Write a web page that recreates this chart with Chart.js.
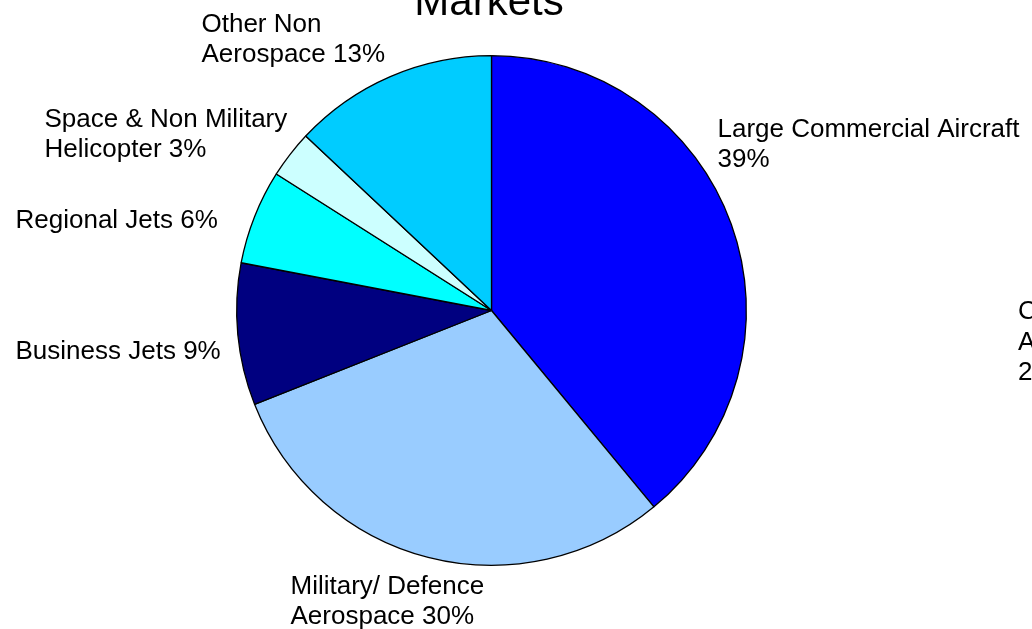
<!DOCTYPE html>
<html>
<head>
<meta charset="utf-8">
<script src="https://cdn.jsdelivr.net/npm/chart.js@4/dist/chart.umd.min.js"></script>
<style>
  html, body { margin: 0; padding: 0; background: #fff; overflow: hidden; }
  canvas { display: block; }
</style>
</head>
<body>
<canvas id="pie" width="1032" height="629"></canvas>
<script>
// Market split of sales, clockwise from twelve o'clock
const categories = [
  "Large Commercial Aircraft\n",
  "Military/ Defence\nAerospace",
  "Business Jets",
  "Regional Jets",
  "Space & Non Military\nHelicopter",
  "Other Non\nAerospace"
];
const shares = [39, 30, 9, 6, 3, 13];
const sliceColors = ["#0000FF", "#99CCFF", "#000080", "#00FFFF", "#CCFFFF", "#00CCFF"];
const titleText = "Markets";
const sideLabelLines = ["C", "A", "2"];

const FONT = "'Liberation Sans', Arial, Helvetica, sans-serif";

// label placement: left edge and first baseline, as offsets from the pie centre
const labelAnchors = [
  { dx: 226,  dy: -174 },
  { dx: -201, dy: 283 },
  { dx: -476, dy: 48 },
  { dx: -476, dy: -83 },
  { dx: -447, dy: -184 },
  { dx: -290, dy: -279 }
];

const pieLabels = {
  id: "pieLabels",
  afterDraw(chart) {
    const ctx = chart.ctx;
    const arcs = chart.getDatasetMeta(0).data;
    const cx = arcs[0].x, cy = arcs[0].y;
    ctx.save();
    ctx.fillStyle = "#000";
    ctx.textAlign = "left";
    ctx.textBaseline = "alphabetic";
    ctx.font = "26px " + FONT;
    const lh = 30.5;
    categories.forEach((name, i) => {
      const text = name + " " + shares[i] + "%";
      const lines = text.split("\n").map(s => s.trim());
      const a = labelAnchors[i];
      lines.forEach((ln, k) => ctx.fillText(ln, cx + a.dx, cy + a.dy + k * lh));
    });
    // neighbouring label running off the right edge
    sideLabelLines.forEach((ln, k) => ctx.fillText(ln, 1018, 319 + k * lh));
    // title
    ctx.textAlign = "center";
    ctx.font = "42px " + FONT;
    ctx.fillText(titleText, 489, 15);
    ctx.restore();
  }
};

new Chart(document.getElementById("pie"), {
  type: "pie",
  data: {
    labels: categories.map(c => c.replace("\n", " ").trim()),
    datasets: [{
      data: shares,
      backgroundColor: sliceColors,
      borderColor: "#000",
      borderWidth: 1.3,
      borderAlign: "center"
    }]
  },
  options: {
    responsive: false,
    animation: false,
    rotation: 0,
    layout: { padding: { top: 55, bottom: 63, left: 236, right: 285 } },
    plugins: {
      legend: { display: false },
      tooltip: { enabled: false },
      title: { display: false }
    }
  },
  plugins: [pieLabels]
});
</script>
</body>
</html>
